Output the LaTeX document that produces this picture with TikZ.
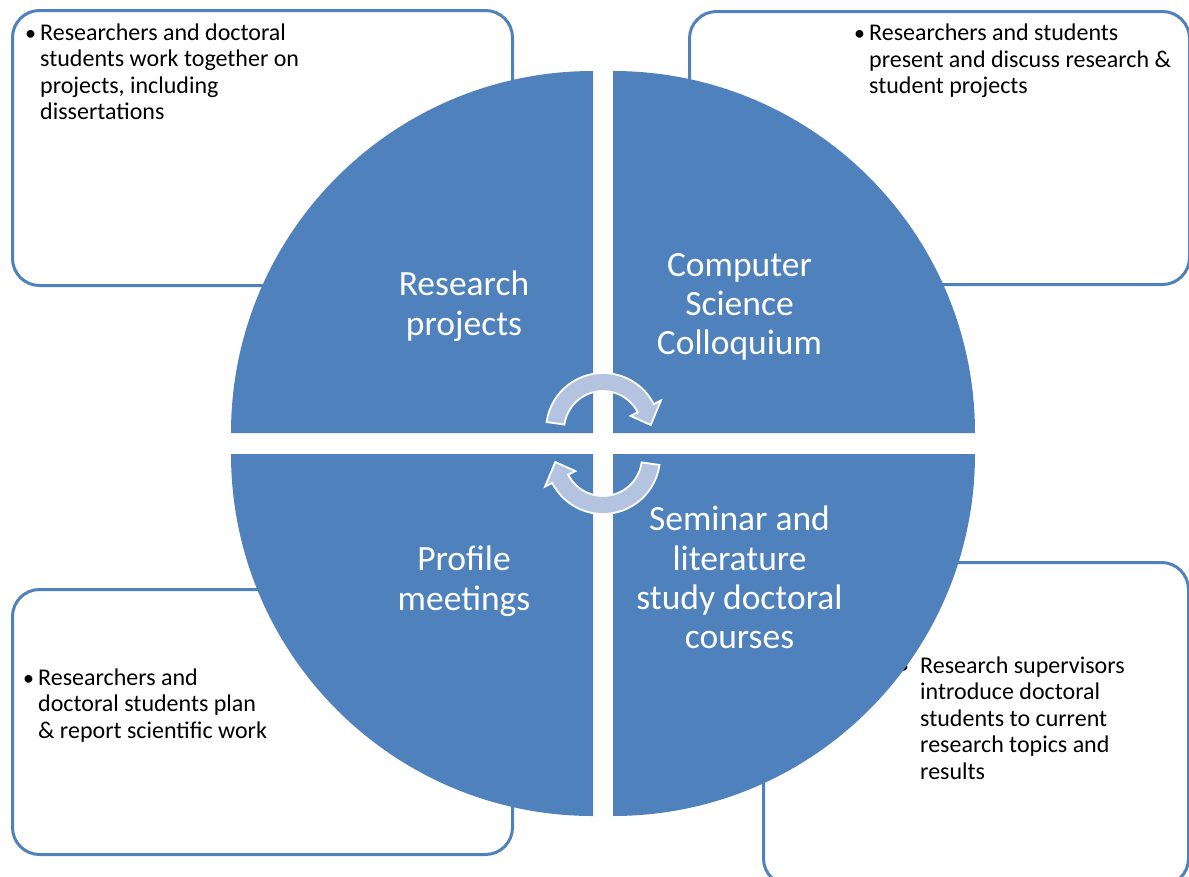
\documentclass[tikz,border=0pt]{standalone}
\usepackage{fontspec}
\setmainfont{Carlito}
\definecolor{accent}{RGB}{79,129,189}
\definecolor{arrowfill}{RGB}{180,196,224}
\newcommand{\leftlines}[1]{\begin{tabular}[t]{@{}l@{}}#1\end{tabular}}
\newcommand{\centerlines}[1]{\begin{tabular}[t]{@{}c@{}}#1\end{tabular}}
\begin{document}
\begin{tikzpicture}[x=1pt,y=-1pt,
  infobox/.style={draw=accent, line width=3pt, rounded corners=27pt, anchor=north west, inner sep=0pt},
  quad/.style={fill=accent},
  boxtext/.style={anchor=base west, inner sep=0pt, font=\fontsize{24}{26.5}\selectfont},
  bullet/.style={anchor=base west, inner sep=0pt, font=\fontsize{22}{26.5}\selectfont},
  quadlabel/.style={anchor=base, inner sep=0pt, text=white, font=\fontsize{35.5}{39.3}\selectfont},
  cyc/.style={fill=arrowfill, draw=white, line width=1.8pt, line join=miter}]
\useasboundingbox (0,0) rectangle (1189,876);
\clip (0,0) rectangle (1189,876);
% boxes
\node[infobox, minimum width=500pt, minimum height=275pt] (tlbox) at (11,9) {};
\node[infobox, minimum width=500pt, minimum height=273pt] (trbox) at (688,10) {};
\node[infobox, minimum width=500pt, minimum height=265pt] (blbox) at (11,588) {};
\node[infobox, minimum width=425pt, minimum height=323pt] (brbox) at (762,561) {};
% box texts
\node[bullet] (tlb) at (25,40) {•};
\node[boxtext] (tlt) at (40,40) {\leftlines{Researchers and doctoral\\students work together on\\projects, including\\dissertations}};
\node[bullet] (trb) at (854,40.5) {•};
\node[boxtext] (trt) at (869,40.5) {\leftlines{Researchers and students\\present and discuss research \&\\student projects}};
\node[bullet] (blb) at (23,685) {•};
\node[boxtext] (blt) at (38,685) {\leftlines{Researchers and\\doctoral students plan\\\& report scientific work}};
\node[bullet] (brb) at (898,673) {•};
\node[boxtext] (brt) at (920,673) {\leftlines{Research supervisors\\introduce doctoral\\students to current\\research topics and\\results}};
% quadrants
\fill[quad] (593,433) -- ++(180:362) arc[start angle=180, end angle=270, radius=362] -- cycle;
\fill[quad] (613,433) -- ++(270:362) arc[start angle=270, end angle=360, radius=362] -- cycle;
\fill[quad] (613,454) -- ++(0:362) arc[start angle=0, end angle=90, radius=362] -- cycle;
\fill[quad] (593,454) -- ++(90:362) arc[start angle=90, end angle=180, radius=362] -- cycle;
% labels
\node[quadlabel] (rp) at (464,295.7) {\centerlines{Research\\projects}};
\node[quadlabel] (csc) at (739.5,276) {\centerlines{Computer\\Science\\Colloquium}};
\node[quadlabel] (pm) at (464,570.7) {\centerlines{Profile\\meetings}};
\node[quadlabel] (sl) at (739.5,530.7) {\centerlines{Seminar and\\literature\\study doctoral\\courses}};
% cycle arrows
\begin{scope}[shift={(603,430)}, yscale=-1]
\draw[cyc] (172:57) arc[start angle=172, end angle=27, radius=57] -- (27:65) -- (6:48) -- (27:31) -- (27:39) arc[start angle=27, end angle=172, radius=39] -- cycle;
\end{scope}
\begin{scope}[shift={(603,457)}, yscale=-1]
\draw[cyc] (352:57) arc[start angle=352, end angle=207, radius=57] -- (207:65) -- (186:48) -- (207:31) -- (207:39) arc[start angle=207, end angle=352, radius=39] -- cycle;
\end{scope}
\end{tikzpicture}
\end{document}
